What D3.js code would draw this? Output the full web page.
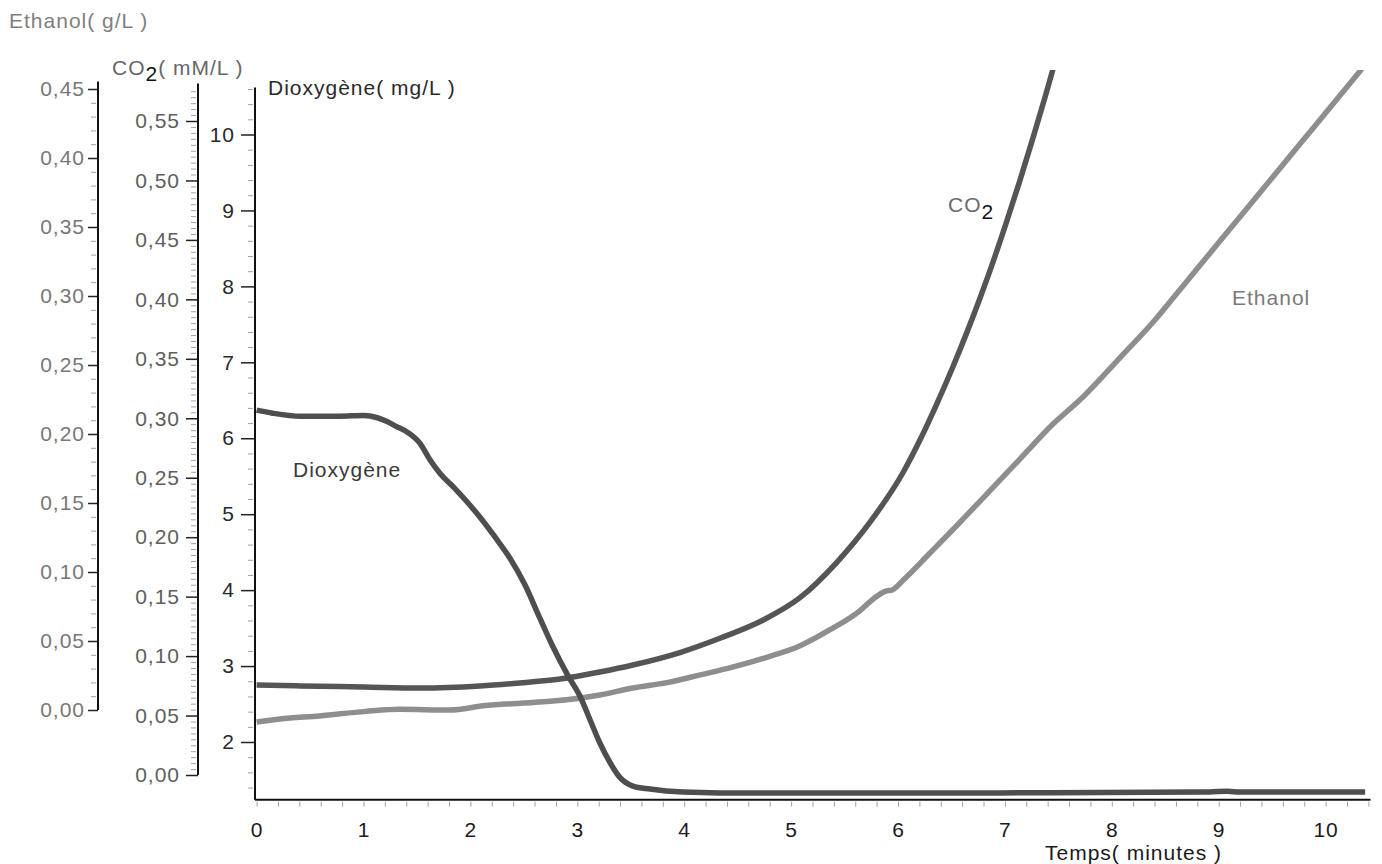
<!DOCTYPE html>
<html>
<head>
<meta charset="utf-8">
<script src="https://cdn.jsdelivr.net/npm/d3@7"></script>
<style>
  html, body { margin: 0; padding: 0; background: #fff; }
  svg text { font-family: "Liberation Sans", Arial, sans-serif; font-size: 21px; letter-spacing: 1px; }
</style>
</head>
<body>
<svg id="chart" width="1382" height="864"></svg>
<script>
// ---- Data ----
const xTicks = [0,1,2,3,4,5,6,7,8,9,10];
const ethanolTicks = [0,0.05,0.10,0.15,0.20,0.25,0.30,0.35,0.40,0.45];
const co2Ticks = [0,0.05,0.10,0.15,0.20,0.25,0.30,0.35,0.40,0.45,0.50,0.55];
const o2Ticks = [2,3,4,5,6,7,8,9,10];

const o2Time = [0.00,0.15,0.41,0.78,1.00,1.13,1.22,1.30,1.41,1.53,1.62,1.72,1.84,1.97,2.09,2.23,2.37,2.51,2.65,2.77,2.91,3.03,3.12,3.21,3.31,3.40,3.52,3.68,3.99,4.33,5.08,6.95,8.83,9.08,9.20,10.37];
const o2Values = [6.37,6.33,6.29,6.29,6.30,6.27,6.22,6.16,6.08,5.93,5.72,5.53,5.36,5.16,4.96,4.70,4.42,4.07,3.63,3.26,2.88,2.59,2.29,1.99,1.72,1.53,1.42,1.38,1.34,1.33,1.33,1.33,1.34,1.35,1.34,1.34];

const co2Time = [0.00,0.41,1.00,1.53,2.09,2.46,2.84,3.21,3.52,3.96,4.34,4.74,5.08,5.43,5.74,6.05,6.21,6.36,6.51,6.65,6.77,6.89,7.02,7.14,7.26,7.38,7.47];
const co2Values = [0.0757,0.0749,0.0740,0.0732,0.0749,0.0774,0.0807,0.0866,0.0925,0.1030,0.1152,0.1304,0.1489,0.1791,0.2128,0.2548,0.2825,0.3115,0.3425,0.3735,0.4018,0.4318,0.4665,0.4998,0.5350,0.5715,0.6000];

const ethTime = [0.00,0.22,0.59,1.02,1.34,1.81,2.12,2.65,2.90,3.21,3.52,3.84,4.15,4.46,4.78,5.08,5.36,5.64,5.78,5.88,5.95,6.05,6.30,6.51,6.83,7.14,7.45,7.70,8.08,8.42,8.61,8.80,9.01,9.26,9.51,9.76,10.04,10.34];
const ethValues = [-0.0087,-0.0065,-0.0043,-0.0010,0.0005,0.0000,0.0030,0.0058,0.0074,0.0109,0.0159,0.0198,0.0254,0.0312,0.0384,0.0464,0.0580,0.0717,0.0812,0.0860,0.0872,0.0942,0.1138,0.1304,0.1565,0.1818,0.2072,0.2246,0.2556,0.2841,0.3020,0.3199,0.3396,0.3631,0.3866,0.4101,0.4364,0.4646];

// ---- Scales ----
const svg = d3.select("#chart");
const x = d3.scaleLinear().domain([0, 10]).range([256.6, 1325.6]);
const yO2 = d3.scaleLinear().domain([2, 10]).range([742, 134.5]);
const yCO2 = d3.scaleLinear().domain([0, 0.55]).range([775, 121]);
const yEth = d3.scaleLinear().domain([0, 0.45]).range([710, 89]);

const fmt = v => d3.format(".2f")(v).replace(".", ",");
const range = (a, b, s) => d3.range(Math.round((b - a) / s) + 1).map(i => +(a + i * s).toFixed(4));

function styleAxis(g, textColor) {
  g.select(".domain").remove();
  g.selectAll("text").attr("fill", textColor).style("font-size", "21px")
    .style("font-family", '"Liberation Sans", Arial, sans-serif');
}

// ---- Ethanol axis ----
const ethX = 98;
svg.append("g").attr("transform", `translate(${ethX},0)`)
  .call(d3.axisLeft(yEth).tickValues(range(0, 0.45, 0.01).filter(v => Math.abs(v*20 - Math.round(v*20)) > 1e-6)).tickSize(5).tickFormat(""))
  .call(g => { g.select(".domain").remove(); g.selectAll("line").attr("stroke", "#a0a0a0").attr("transform", "translate(-2,0)"); });
svg.append("g").attr("transform", `translate(${ethX},0)`)
  .call(d3.axisLeft(yEth).tickValues(ethanolTicks).tickSize(10).tickPadding(3).tickFormat(fmt))
  .call(g => { styleAxis(g, "#777777"); g.selectAll("line").attr("stroke", "#222").attr("stroke-width", 1.5); });
svg.append("line").attr("x1", ethX).attr("x2", ethX).attr("y1", yEth(0.4555)).attr("y2", yEth(0))
  .attr("stroke", "#111").attr("stroke-width", 2);

// ---- CO2 axis ----
const co2X = 198;
svg.append("g").attr("transform", `translate(${co2X},0)`)
  .call(d3.axisLeft(yCO2).tickValues(range(0, 0.575, 0.005).filter(v => Math.abs(v*20 - Math.round(v*20)) > 1e-6)).tickSize(5).tickFormat(""))
  .call(g => { g.select(".domain").remove(); g.selectAll("line").attr("stroke", "#a0a0a0").attr("transform", "translate(-2,0)"); });
svg.append("g").attr("transform", `translate(${co2X},0)`)
  .call(d3.axisLeft(yCO2).tickValues(co2Ticks).tickSize(12).tickPadding(6).tickFormat(fmt))
  .call(g => { styleAxis(g, "#5e5e5e"); g.selectAll("line").attr("stroke", "#222").attr("stroke-width", 1.5); });
svg.append("line").attr("x1", co2X).attr("x2", co2X).attr("y1", yCO2(0.5815)).attr("y2", yCO2(0))
  .attr("stroke", "#111").attr("stroke-width", 2);

// ---- Dioxygene axis ----
const o2X = 255;
svg.append("g").attr("transform", `translate(${o2X},0)`)
  .call(d3.axisLeft(yO2).tickValues(range(1.4, 10.6, 0.2).filter(v => Math.abs(v - Math.round(v)) > 1e-6)).tickSize(5).tickFormat(""))
  .call(g => { g.select(".domain").remove(); g.selectAll("line").attr("stroke", "#a0a0a0").attr("transform", "translate(-2,0)"); });
svg.append("g").attr("transform", `translate(${o2X},0)`)
  .call(d3.axisLeft(yO2).tickValues(o2Ticks).tickSize(14).tickPadding(6).tickFormat(d3.format("d")))
  .call(g => { styleAxis(g, "#2a2a2a"); g.selectAll("line").attr("stroke", "#222").attr("stroke-width", 1.5); });
svg.append("line").attr("x1", o2X).attr("x2", o2X).attr("y1", yO2(10.62)).attr("y2", yO2(1.24))
  .attr("stroke", "#111").attr("stroke-width", 2);

// ---- X axis ----
const baseY = yO2(1.24);
svg.append("g").attr("transform", `translate(0,${baseY})`)
  .call(d3.axisBottom(x).tickValues(range(0, 10.4, 0.2)).tickSize(5).tickFormat(""))
  .call(g => { g.select(".domain").remove(); g.selectAll("line").attr("stroke", "#a0a0a0").attr("transform", "translate(0,2)"); });
svg.append("g").attr("transform", `translate(0,${baseY})`)
  .call(d3.axisBottom(x).tickValues(xTicks).tickSize(0).tickPadding(22).tickFormat(d3.format("d")))
  .call(g => { styleAxis(g, "#1a1a1a"); });
svg.append("line").attr("x1", o2X).attr("x2", x(10.42)).attr("y1", baseY).attr("y2", baseY)
  .attr("stroke", "#111").attr("stroke-width", 2);

// ---- Curves ----
svg.append("clipPath").attr("id", "plotClip").append("rect")
  .attr("x", o2X).attr("y", 70).attr("width", x(10.42) - o2X).attr("height", baseY - 70);
const plot = svg.append("g").attr("clip-path", "url(#plotClip)");

function drawSeries(times, values, yScale, color) {
  const data = times.map((t, i) => [t, values[i]]);
  plot.append("path").datum(data)
    .attr("fill", "none").attr("stroke", color).attr("stroke-width", 5.5)
    .attr("stroke-linejoin", "round")
    .attr("d", d3.line().x(d => x(d[0])).y(d => yScale(d[1])).curve(d3.curveMonotoneX));
}
drawSeries(ethTime, ethValues, yEth, "#8e8e8e");
drawSeries(co2Time, co2Values, yCO2, "#555555");
drawSeries(o2Time, o2Values, yO2, "#4e4e4e");

// ---- Texts ----
svg.append("text").attr("x", 9).attr("y", 28).attr("fill", "#808080").text("Ethanol( g/L )");

const co2Title = svg.append("text").attr("x", 112).attr("y", 75).attr("fill", "#666666");
co2Title.append("tspan").text("CO");
co2Title.append("tspan").attr("dy", 6).attr("fill", "#111").text("2");
co2Title.append("tspan").attr("dy", -6).text("( mM/L )");

svg.append("text").attr("x", 268).attr("y", 95).attr("fill", "#2a2a2a").text("Dioxygène( mg/L )");
svg.append("text").attr("x", 1045).attr("y", 860).attr("fill", "#1a1a1a").text("Temps( minutes )");

svg.append("text").attr("x", 293).attr("y", 477).attr("fill", "#3a3a3a").text("Dioxygène");
const co2Label = svg.append("text").attr("x", 948).attr("y", 212).attr("fill", "#6a6a6a");
co2Label.append("tspan").text("CO");
co2Label.append("tspan").attr("dy", 7).attr("fill", "#111").text("2");
svg.append("text").attr("x", 1232).attr("y", 305).attr("fill", "#7a7a7a").text("Ethanol");
</script>
</body>
</html>
